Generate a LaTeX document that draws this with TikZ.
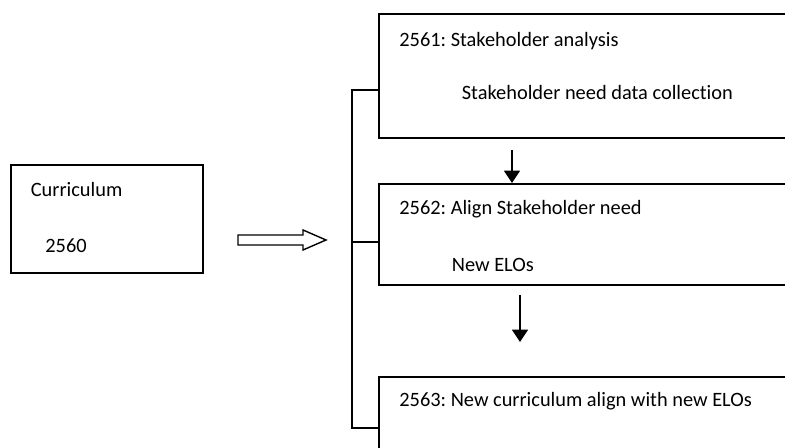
\documentclass[tikz,border=0pt]{standalone}
\usepackage{fontspec}
\setmainfont{Carlito}[Ligatures=NoCommon]
\usepackage{tikz}
\usetikzlibrary{arrows.meta}
\usetikzlibrary{calc}
\frenchspacing

\begin{document}
\begin{tikzpicture}[font=\fontsize{11.6}{14}\selectfont,
	box/.style={draw, line width=1.1pt, rectangle, anchor=north west, inner sep=0pt},
	txt/.style={anchor=base west, inner sep=0pt},
	flow/.style={line width=1pt, -{Triangle[length=7pt,width=9pt]}}]
	\useasboundingbox (0,0) rectangle (15.7,8.96);
	\clip (0,0) rectangle (15.7,8.96);
	
	% starting curriculum
	\node[box, minimum width=3.84cm, minimum height=2.16cm] (cur) at (0.2,5.68) {};
	\node[txt] (curname) at (0.61,5.02) {Curriculum};
	\node[txt] (curyear) at (0.9,3.90) {2560};
	
	% hollow arrow
	\draw[line width=0.8pt] (4.76,4.26) -- (6.06,4.26) -- (6.06,4.36) -- (6.52,4.16)
		-- (6.06,3.96) -- (6.06,4.06) -- (4.76,4.06) -- cycle;
	
	% bracket
	\draw[line width=0.8pt] (7.56,7.16) -- (7.04,7.16) -- (7.04,0.40) -- (7.56,0.40);
	\draw[line width=0.8pt] (7.04,4.12) -- (7.56,4.12);
	
	% yearly steps
	\node[box, minimum width=9cm, minimum height=2.48cm] (s1) at (7.56,8.70) {};
	\node[box, minimum width=9cm, minimum height=2.02cm] (s2) at (7.56,5.30) {};
	\node[box, minimum width=9cm, minimum height=2.5cm] (s3) at (7.56,1.44) {};
	
	\node[txt] (s1a) at (7.98,8.02) {2561: Stakeholder analysis};
	\node[txt] (s1b) at (9.23,6.96) {Stakeholder need data collection};
	\node[txt] (s2a) at (7.98,4.66) {2562: Align Stakeholder need};
	\node[txt] (s2b) at (9.03,3.53) {New ELOs};
	\node[txt] (s3a) at (7.98,0.83) {2563: New curriculum align with new ELOs};
	
	% arrows between steps
	\coordinate (a1) at (10.24,5.96);
	\draw[flow] (a1) -- (a1 |- s2.north);
	\coordinate (a2) at (10.40,3.06);
	\coordinate (a2end) at (10.40,2.12);
	\draw[flow] (a2) -- (a2end);
\end{tikzpicture}
\end{document}
